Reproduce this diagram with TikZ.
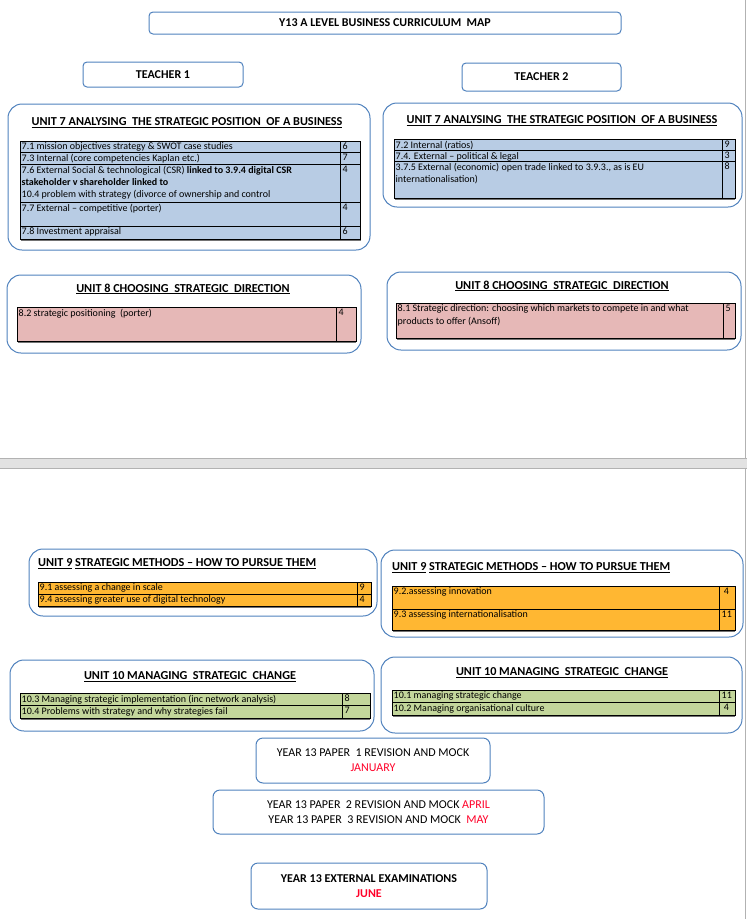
\documentclass[tikz,border=0pt]{standalone}
\usepackage{fontspec}
\setmainfont{Carlito}
\usetikzlibrary{positioning}

\definecolor{boxblue}{RGB}{79,129,189}
\definecolor{rowblue}{RGB}{184,204,228}
\definecolor{rowpink}{RGB}{230,184,183}
\definecolor{roworange}{RGB}{255,183,50}
\definecolor{rowgreen}{RGB}{195,214,155}
\definecolor{markred}{RGB}{255,0,40}
\definecolor{pagegray}{RGB}{226,226,226}

\tikzset{
  unitbox/.style={draw=boxblue,line width=1pt,rounded corners=14pt},
  smallbox/.style={draw=boxblue,line width=1pt,rounded corners=4pt,inner sep=0pt},
  heading/.style={font=\bfseries\fontsize{12.2}{13}\selectfont,inner sep=0pt},
  tabline/.style={draw=black,line width=0.9pt},
  tabshadow/.style={draw=black!55,line width=1.6pt},
  cell/.style={anchor=north west,inner sep=1.5pt,align=left,
    font=\fontsize{10}{12.4}\selectfont},
  num/.style={cell}
}

\begin{document}
\begin{tikzpicture}[x=1pt,y=-1pt]
  \useasboundingbox (0,0) rectangle (747,919);

  % page break
  \fill[pagegray] (0,458) rectangle (747,468);
  \draw[black!30] (0,458) -- (747,458) (0,468) -- (747,468);
  \draw[black!30] (745,0) -- (745,458) (745,468) -- (745,919);

  % title and teachers
  \node[smallbox,minimum width=472,minimum height=22,
    font=\bfseries\fontsize{12}{13}\selectfont] (title) at (385,23)
    {Y13 A LEVEL BUSINESS CURRICULUM\ \ MAP};
  \node[smallbox,minimum width=160,minimum height=25,
    font=\bfseries\fontsize{12}{13}\selectfont] (teacherA) at (163,74.5) {TEACHER 1};
  \node[smallbox,minimum width=159,minimum height=28,
    font=\bfseries\fontsize{12}{13}\selectfont] (teacherB) at (541.5,77) {TEACHER 2};

  % ---- teacher 1, unit 7
  \draw[unitbox] (8,104) rectangle (370,250);
  \node[heading] (uA7) at (187,123)
    {\underline{UNIT 7 ANALYSING\ \ THE STRATEGIC POSITION\ \ OF A BUSINESS}};
  \fill[rowblue] (20,141) rectangle (360,239);
  \draw[tabshadow] (21,240) -- (361,240);
  \draw[tabline] (20,141) rectangle (360,239);
  \foreach \y in {152,164,202,226} \draw[tabline] (20,\y) -- (360,\y);
  \draw[tabline] (340,141) -- (340,239);
  \node[cell] (a71) at (20,141) {7.1 mission objectives strategy \& SWOT case studies};
  \node[cell] (a73) at (20,152) {7.3 Internal (core competencies Kaplan etc.)};
  \node[cell] (a76) at (20,164) {7.6 External Social \& technological (CSR) \textbf{linked to 3.9.4 digital CSR}\\
    \textbf{stakeholder v shareholder linked to}\\
    10.4 problem with strategy (divorce of ownership and control};
  \node[cell] (a77) at (20,202) {7.7 External -- competitive (porter)};
  \node[cell] (a78) at (20,226) {7.8 Investment appraisal};
  \node[num] (na71) at (341,141) {6};
  \node[num] (na73) at (341,152) {7};
  \node[num] (na76) at (341,164) {4};
  \node[num] (na77) at (341,202) {4};
  \node[num] (na78) at (341,226) {6};

  % ---- teacher 2, unit 7
  \draw[unitbox] (383,103) rectangle (742,207);
  \node[heading] (uB7) at (562,121)
    {\underline{UNIT 7 ANALYSING\ \ THE STRATEGIC POSITION\ \ OF A BUSINESS}};
  \fill[rowblue] (394,139.5) rectangle (735,198);
  \draw[tabshadow] (395,199) -- (735,199);
  \draw[tabline] (394,139.5) rectangle (735,198);
  \foreach \y in {150.5,161} \draw[tabline] (394,\y) -- (735,\y);
  \draw[tabline] (722,139.5) -- (722,198);
  \node[cell] (b72) at (394,139.5) {7.2 Internal (ratios)};
  \node[cell] (b74) at (394,150.5) {7.4. External -- political \& legal};
  \node[cell] (b375) at (394,161) {3.7.5 External (economic) open trade linked to 3.9.3., as is EU\\
    internationalisation)};
  \node[num] (nb72) at (723,139.5) {9};
  \node[num] (nb74) at (723,150.5) {3};
  \node[num] (nb375) at (723,161) {8};

  % ---- teacher 1, unit 8
  \draw[unitbox] (7,275) rectangle (361,353);
  \node[heading] (uA8) at (183,289) {\underline{UNIT 8 CHOOSING\ \ STRATEGIC\ \ DIRECTION}};
  \fill[rowpink] (17,307) rectangle (356,341);
  \draw[tabshadow] (18,342) -- (356,342);
  \draw[tabline] (17,307) rectangle (356,341);
  \draw[tabline] (336,307) -- (336,341);
  \node[cell] (a82) at (17,307) {8.2 strategic positioning\ \ (porter)};
  \node[num] (na82) at (337,307) {4};

  % ---- teacher 2, unit 8
  \draw[unitbox] (387,272) rectangle (741,350);
  \node[heading] (uB8) at (562,286) {\underline{UNIT 8 CHOOSING\ \ STRATEGIC\ \ DIRECTION}};
  \fill[rowpink] (396,303) rectangle (735,338);
  \draw[tabshadow] (397,339) -- (735,339);
  \draw[tabline] (396,303) rectangle (735,338);
  \draw[tabline] (723,303) -- (723,338);
  \node[cell] (b81) at (396,303) {8.1 Strategic direction: choosing which markets to compete in and what\\
    products to offer (Ansoff)};
  \node[num] (nb81) at (724,303) {5};

  % ---- teacher 1, unit 9
  \draw[unitbox] (29,549) rectangle (377,616);
  \node[heading,anchor=west] (uA9) at (38,564)
    {\underline{UNIT 9} \underline{STRATEGIC METHODS -- HOW TO PURSUE THEM}};
  \fill[roworange] (38,582) rectangle (371,606);
  \draw[tabshadow] (39,607) -- (371,607);
  \draw[tabline] (38,582) rectangle (371,606);
  \draw[tabline] (38,594) -- (371,594);
  \draw[tabline] (357,582) -- (357,606);
  \node[cell] (a91) at (38,582) {9.1 assessing a change in scale};
  \node[cell] (a94) at (38,594) {9.4 assessing greater use of digital technology};
  \node[num] (na91) at (358,582) {9};
  \node[num] (na94) at (358,594) {4};

  % ---- teacher 2, unit 9
  \draw[unitbox] (381,550) rectangle (743,637);
  \node[heading,anchor=west] (uB9) at (392,568)
    {\underline{UNIT 9} \underline{STRATEGIC METHODS -- HOW TO PURSUE THEM}};
  \fill[roworange] (392,586) rectangle (735,630);
  \draw[tabshadow] (393,631) -- (735,631);
  \draw[tabline] (392,586) rectangle (735,630);
  \draw[tabline] (392,609) -- (735,609);
  \draw[tabline] (719,586) -- (719,630);
  \node[cell] (b92) at (392,586) {9.2.assessing innovation};
  \node[cell] (b93) at (392,609) {9.3 assessing internationalisation};
  \node[num] (nb92) at (720,586) {\ 4};
  \node[num] (nb93) at (720,609) {11};

  % ---- teacher 1, unit 10
  \draw[unitbox] (10,660) rectangle (374,731);
  \node[heading] (uA10) at (190,677) {\underline{UNIT 10 MANAGING\ \ STRATEGIC\ \ CHANGE}};
  \fill[rowgreen] (20,693) rectangle (370,718);
  \draw[tabshadow] (21,719) -- (370,719);
  \draw[tabline] (20,693) rectangle (370,718);
  \draw[tabline] (20,705.5) -- (370,705.5);
  \draw[tabline] (342,693) -- (342,718);
  \node[cell] (a103) at (20,693) {10.3 Managing strategic implementation (inc network analysis)};
  \node[cell] (a104) at (20,705.5) {10.4 Problems with strategy and why strategies fail};
  \node[num] (na103) at (343,693) {8};
  \node[num] (na104) at (343,705.5) {7};

  % ---- teacher 2, unit 10
  \draw[unitbox] (381,657) rectangle (742,733);
  \node[heading] (uB10) at (562,673) {\underline{UNIT 10 MANAGING\ \ STRATEGIC\ \ CHANGE}};
  \fill[rowgreen] (392,690) rectangle (735,715);
  \draw[tabshadow] (393,716) -- (735,716);
  \draw[tabline] (392,690) rectangle (735,715);
  \draw[tabline] (392,702.5) -- (735,702.5);
  \draw[tabline] (719,690) -- (719,715);
  \node[cell] (b101) at (392,690) {10.1 managing strategic change};
  \node[cell] (b102) at (392,702.5) {10.2 Managing organisational culture};
  \node[num] (nb101) at (720,690) {11};
  \node[num] (nb102) at (720,702.5) {\ 4};

  % ---- revision and exams
  \node[smallbox,rounded corners=7pt,minimum width=234,minimum height=45,align=center,
    font=\fontsize{12}{15}\selectfont] (mockA) at (373,760.5)
    {YEAR 13 PAPER\ \ 1 REVISION AND MOCK\\ \textcolor{markred}{JANUARY}};
  \node[smallbox,rounded corners=7pt,minimum width=331,minimum height=44,align=center,
    font=\fontsize{12}{15}\selectfont] (mockB) at (378.5,812)
    {YEAR 13 PAPER\ \ 2 REVISION AND MOCK\ \textcolor{markred}{APRIL}\\
     YEAR 13 PAPER\ \ 3 REVISION AND MOCK\ \ \textcolor{markred}{MAY}};
  \node[smallbox,rounded corners=7pt,minimum width=236,minimum height=46,align=center,
    font=\bfseries\fontsize{12}{15.5}\selectfont] (exams) at (369,886)
    {YEAR 13 EXTERNAL EXAMINATIONS\\ \textcolor{markred}{JUNE}};
\end{tikzpicture}
\end{document}
